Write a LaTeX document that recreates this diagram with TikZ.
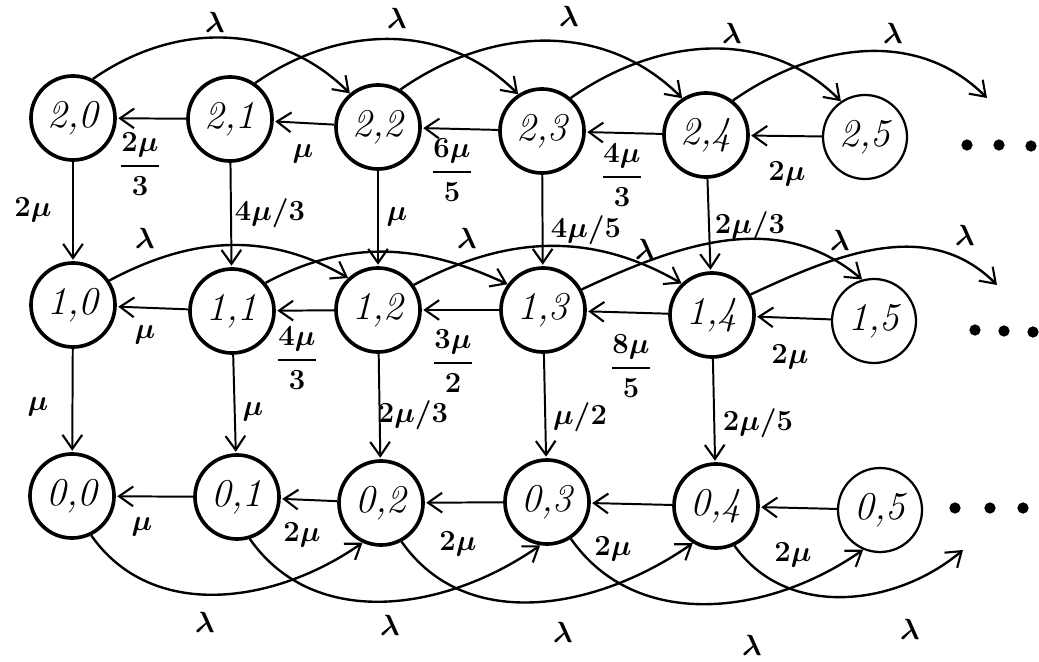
\documentclass[tikz,border=0pt]{standalone}
\usepackage{amsmath}
\usetikzlibrary{arrows.meta}
\begin{document}
\begin{tikzpicture}[x=0.025cm,y=0.025cm,
  st/.style={circle,draw,line width=2.6pt,minimum size=2.1cm,inner sep=0pt,font=\fontsize{28}{30}\selectfont\itshape},
  stthin/.style={st,line width=1.6pt},
  tip/.style={-{Straight Barb[length=10pt,width=14pt,line width=1.5pt]}},
  hv/.style={tip,line width=1.4pt,shorten >=1pt},
  arc/.style={tip,line width=1.7pt},
  lab/.style={font=\fontsize{22}{24}\selectfont\boldmath,inner sep=0pt},
  dot/.style={circle,fill,inner sep=0pt,minimum size=8pt}]
\useasboundingbox (0,0) rectangle (1039,-662);
% states
\node[st] (n20) at (73,-118) {2,0};
\node[st] (n21) at (230,-119) {2,1};
\node[st] (n22) at (378,-127) {2,2};
\node[st] (n23) at (542,-131) {2,3};
\node[st] (n24) at (706,-135) {2,4};
\node[stthin] (n25) at (865,-137) {2,5};
\node[st] (n10) at (73,-305) {1,0};
\node[st] (n11) at (232,-311) {1,1};
\node[st] (n12) at (378,-310) {1,2};
\node[st] (n13) at (543,-310) {1,3};
\node[st] (n14) at (712,-315) {1,4};
\node[stthin] (n15) at (874,-321) {1,5};
\node[st] (n00) at (72,-496) {0,0};
\node[st] (n01) at (237,-497) {0,1};
\node[st] (n02) at (381,-503) {0,2};
\node[st] (n03) at (547,-502) {0,3};
\node[st] (n04) at (716,-506) {0,4};
\node[stthin] (n05) at (880,-510) {0,5};
% ellipsis dots
\node[dot] (d21) at (967,-145) {};
\node[dot] (d22) at (999,-145) {};
\node[dot] (d23) at (1031,-146) {};
\node[dot] (d11) at (975,-330) {};
\node[dot] (d12) at (1004,-331) {};
\node[dot] (d13) at (1033,-332) {};
\node[dot] (d01) at (955,-508) {};
\node[dot] (d02) at (990,-508) {};
\node[dot] (d03) at (1023,-508) {};
% free ends
\coordinate (e2) at (987,-98);
\coordinate (e1) at (997,-285);
\coordinate (e0) at (963,-550);
% horizontal arrows
\draw[hv] (n21) -- (n20);
\draw[hv] (n22) -- (n21);
\draw[hv] (n23) -- (n22);
\draw[hv] (n24) -- (n23);
\draw[hv] (n25) -- (n24);
\draw[hv] (n11) -- (n10);
\draw[hv] (n12) -- (n11);
\draw[hv] (n13) -- (n12);
\draw[hv] (n14) -- (n13);
\draw[hv] (n15) -- (n14);
\draw[hv] (n01) -- (n00);
\draw[hv] (n02) -- (n01);
\draw[hv] (n03) -- (n02);
\draw[hv] (n04) -- (n03);
\draw[hv] (n05) -- (n04);
% vertical arrows
\draw[hv] (n20) -- (n10);
\draw[hv] (n21) -- (n11);
\draw[hv] (n22) -- (n12);
\draw[hv] (n23) -- (n13);
\draw[hv] (n24) -- (n14);
\draw[hv] (n10) -- (n00);
\draw[hv] (n11) -- (n01);
\draw[hv] (n12) -- (n02);
\draw[hv] (n13) -- (n03);
\draw[hv] (n14) -- (n04);
% lambda arcs, top row
\draw[arc] (n20.63) to[out=35,in=135] (n22.130);
\draw[arc] (n21.55) to[out=35,in=135] (n23.123);
\draw[arc] (n22.59) to[out=35,in=135] (n24.123);
\draw[arc] (n23.49) to[out=35,in=135] (n25.124);
\draw[arc] (n24.52) to[out=35,in=135] (e2);
% lambda arcs, middle row
\draw[arc] (n10.34) to[out=28,in=150] (n12.133);
\draw[arc] (n11.40) to[out=28,in=155] (n13.144);
\draw[arc] (n12.35) to[out=28,in=150] (n14.134);
\draw[arc] (n13.28) to[out=25,in=140] (n15.106);
\draw[arc] (n14.28) to[out=25,in=135] (e1);
% lambda arcs, bottom row
\draw[arc] (n00.-64) to[out=-55,in=215] (n02.-115);
\draw[arc] (n01.-73) to[out=-55,in=215] (n03.-99);
\draw[arc] (n02.-62) to[out=-55,in=215] (n04.-122);
\draw[arc] (n03.-57) to[out=-55,in=215] (n05.-113);
\draw[arc] (n04.-65) to[out=-55,in=220] (e0);
% lambda labels
\node[lab] (l1) at (215,-22) {$\lambda$};
\node[lab] (l2) at (397,-18) {$\lambda$};
\node[lab] (l3) at (569,-16) {$\lambda$};
\node[lab] (l4) at (732,-33) {$\lambda$};
\node[lab] (l5) at (893,-33) {$\lambda$};
\node[lab] (l6) at (145,-238) {$\lambda$};
\node[lab] (l7) at (467,-238) {$\lambda$};
\node[lab] (l8) at (645,-249) {$\lambda$};
\node[lab] (l9) at (840,-240) {$\lambda$};
\node[lab] (l10) at (965,-235) {$\lambda$};
\node[lab] (l11) at (205,-622) {$\lambda$};
\node[lab] (l12) at (390,-625) {$\lambda$};
\node[lab] (l13) at (563,-632) {$\lambda$};
\node[lab] (l14) at (752,-645) {$\lambda$};
\node[lab] (l15) at (910,-629) {$\lambda$};
% horizontal labels
\node[lab] (h21) at (140,-164) {$\dfrac{2\mu}{3}$};
\node[lab] (h22) at (303,-154) {$\mu$};
\node[lab] (h23) at (452,-170) {$\dfrac{6\mu}{5}$};
\node[lab] (h24) at (622,-175) {$\dfrac{4\mu}{3}$};
\node[lab] (h25) at (787,-174) {$2\mu$};
\node[lab] (h11) at (145,-335) {$\mu$};
\node[lab] (h12) at (297,-358) {$\dfrac{4\mu}{3}$};
\node[lab] (h13) at (453,-361) {$\dfrac{3\mu}{2}$};
\node[lab] (h14) at (631,-366) {$\dfrac{8\mu}{5}$};
\node[lab] (h15) at (790,-357) {$2\mu$};
\node[lab] (h01) at (142,-527) {$\mu$};
\node[lab] (h02) at (302,-535) {$2\mu$};
\node[lab] (h03) at (458,-544) {$2\mu$};
\node[lab] (h04) at (613,-549) {$2\mu$};
\node[lab] (h05) at (793,-555) {$2\mu$};
% vertical labels
\node[lab] (v20) at (33,-210) {$2\mu$};
\node[lab] (v21) at (270,-213) {$4\mu/3$};
\node[lab] (v22) at (397,-217) {$\mu$};
\node[lab] (v23) at (586,-230) {$4\mu/5$};
\node[lab] (v24) at (750,-226) {$2\mu/3$};
\node[lab] (v10) at (38,-407) {$\mu$};
\node[lab] (v11) at (253,-412) {$\mu$};
\node[lab] (v12) at (413,-415) {$2\mu/3$};
\node[lab] (v13) at (580,-417) {$\mu/2$};
\node[lab] (v14) at (758,-423) {$2\mu/5$};
\end{tikzpicture}
\end{document}
